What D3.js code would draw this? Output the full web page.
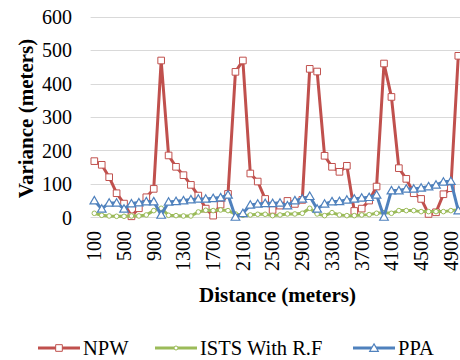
<!DOCTYPE html>
<html>
<head>
<meta charset="utf-8">
<script src="https://cdn.jsdelivr.net/npm/d3@7"></script>
<style>
  body { margin: 0; background: #fff; }
</style>
</head>
<body>
<div id="chart"></div>
<script>
// distance categories (meters)
var distances = [100,200,300,400,500,600,700,800,900,1000,
                 1100,1200,1300,1400,1500,1600,1700,1800,1900,2000,
                 2100,2200,2300,2400,2500,2600,2700,2800,2900,3000,
                 3100,3200,3300,3400,3500,3600,3700,3800,3900,4000,
                 4100,4200,4300,4400,4500,4600,4700,4800,4900,5000];

var npw = [168,157,120,72,41,3,27,60,85,469,
           185,151,126,97,65,26,5,38,70,435,
           469,131,107,55,22,35,49,40,52,444,
           436,184,151,136,154,19,26,50,92,460,
           360,147,115,72,55,10,15,69,87,483];

var ists = [12,6,4,3,3,4,4,7,20,27,
            6,5,4,4,16,21,20,22,20,10,
            6,7,9,9,5,7,10,10,12,27,
            10,5,14,7,5,5,7,8,12,14,
            12,20,20,20,17,17,17,17,20,22];

var ppa = [50,25,43,43,25,41,44,47,47,7,
           46,48,50,53,55,55,57,59,67,1,
           12,37,40,42,42,43,35,50,55,63,
           25,40,47,48,52,55,58,60,67,1,
           80,80,85,85,88,92,97,106,108,20];

var xTickLabels = [100,500,900,1300,1700,2100,2500,2900,3300,3700,4100,4500,4900];
var yTickLabels = [0,100,200,300,400,500,600];

var seriesNames = ["NPW", "ISTS With R.F", "PPA"];

var width = 460, height = 360;
var serif = "Liberation Serif";

var svg = d3.select("#chart").append("svg")
    .attr("width", width)
    .attr("height", height);

// Scales
var x = d3.scaleBand().domain(distances).range([90.6, 462]).padding(0);
var y = d3.scaleLinear().domain([0, 600]).range([217.3, 16.7]);

var cx = function (d, i) { return x(distances[i]) + x.bandwidth() / 2; };

// gridlines
svg.append("g").selectAll("line")
    .data(yTickLabels)
    .enter().append("line")
    .attr("x1", 90.6).attr("x2", 462)
    .attr("y1", function (d) { return Math.round(y(d)) + 0.5; })
    .attr("y2", function (d) { return Math.round(y(d)) + 0.5; })
    .attr("stroke", "#d9d9d9")
    .attr("stroke-width", 1);

// y axis labels
var yAxisCall = d3.axisLeft(y).tickValues(yTickLabels).tickSize(0).tickPadding(0);
var yAxis = svg.append("g")
    .attr("transform", "translate(72,0)")
    .call(yAxisCall);
yAxis.select(".domain").remove();
yAxis.selectAll("text")
    .attr("font-family", serif)
    .attr("font-size", "20px")
    .attr("fill", "#000")
    .attr("dy", "0.34em");

// x axis labels (rotated)
var xAxisCall = d3.axisBottom(x).tickValues(xTickLabels).tickSize(0).tickPadding(0);
var xAxis = svg.append("g")
    .attr("transform", "translate(0,231)")
    .call(xAxisCall);
xAxis.select(".domain").remove();
xAxis.selectAll("text")
    .attr("font-family", serif)
    .attr("font-size", "20px")
    .attr("fill", "#000")
    .attr("transform", "rotate(-90)")
    .attr("text-anchor", "end")
    .attr("x", 0)
    .attr("y", 0)
    .attr("dy", "0.34em");

// axis titles
svg.append("text")
    .attr("transform", "translate(33,118.5) rotate(-90)")
    .attr("text-anchor", "middle")
    .attr("font-family", serif)
    .attr("font-size", "21px")
    .attr("font-weight", "bold")
    .text("Variance (meters)");

svg.append("text")
    .attr("x", 277.5)
    .attr("y", 301.5)
    .attr("text-anchor", "middle")
    .attr("font-family", serif)
    .attr("font-size", "21px")
    .attr("font-weight", "bold")
    .text("Distance (meters)");

var colors = ["#c0504d", "#9bbb59", "#4f81bd"];
var allData = [npw, ists, ppa];

var line = d3.line()
    .x(function (d, i) { return cx(d, i); })
    .y(function (d) { return y(d); });

var sq = d3.symbol().type(d3.symbolSquare).size(44);
var tri = d3.symbol().type(d3.symbolTriangle).size(32);

var plot = svg.append("g");

allData.forEach(function (data, s) {
    plot.append("path")
        .datum(data)
        .attr("fill", "none")
        .attr("stroke", colors[s])
        .attr("stroke-width", 3)
        .attr("stroke-linejoin", "round")
        .attr("d", line);

    var marks = plot.append("g").selectAll(".m")
        .data(data).enter();

    if (s === 0) {
        marks.append("path")
            .attr("d", sq)
            .attr("transform", function (d, i) { return "translate(" + cx(d, i) + "," + y(d) + ")"; })
            .attr("fill", "#fff")
            .attr("stroke", colors[s])
            .attr("stroke-width", 1);
    } else if (s === 1) {
        marks.append("circle")
            .attr("cx", function (d, i) { return cx(d, i); })
            .attr("cy", function (d) { return y(d); })
            .attr("r", 2.3)
            .attr("fill", "#fff")
            .attr("stroke", colors[s])
            .attr("stroke-width", 1);
    } else {
        marks.append("path")
            .attr("d", tri)
            .attr("transform", function (d, i) { return "translate(" + cx(d, i) + "," + (y(d) + 0.8) + ")"; })
            .attr("fill", "#fff")
            .attr("stroke", colors[s])
            .attr("stroke-width", 1.2);
    }
});

// legend
var legendX = [38, 155, 353];
var legendY = 348;
var legend = svg.append("g");
seriesNames.forEach(function (name, s) {
    var g = legend.append("g").attr("transform", "translate(" + legendX[s] + "," + legendY + ")");
    g.append("line")
        .attr("x1", 0).attr("x2", 42)
        .attr("y1", 0).attr("y2", 0)
        .attr("stroke", colors[s])
        .attr("stroke-width", 3);
    if (s === 0) {
        g.append("path").attr("d", sq).attr("transform", "translate(21,0)")
            .attr("fill", "#fff").attr("stroke", colors[s]).attr("stroke-width", 1);
    } else if (s === 1) {
        g.append("circle").attr("cx", 21).attr("cy", 0).attr("r", 2)
            .attr("fill", "#fff").attr("stroke", colors[s]).attr("stroke-width", 1);
    } else {
        g.append("path").attr("d", tri).attr("transform", "translate(21,0.8)")
            .attr("fill", "#fff").attr("stroke", colors[s]).attr("stroke-width", 1.2);
    }
    g.append("text")
        .attr("x", 45)
        .attr("y", 0)
        .attr("dy", "0.34em")
        .attr("font-family", serif)
        .attr("font-size", "20.5px")
        .text(name);
});
</script>
</body>
</html>
